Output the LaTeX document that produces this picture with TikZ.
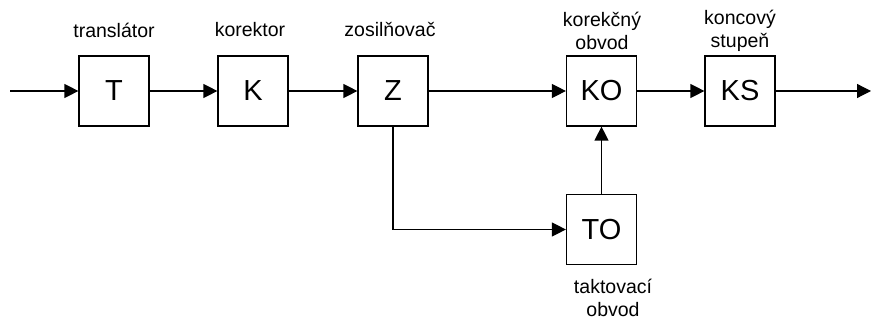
\documentclass[tikz,border=0pt]{standalone}
\usepackage{fontspec}
\setmainfont{Liberation Sans}
\usetikzlibrary{arrows.meta}
\begin{document}
\begin{tikzpicture}[x=1pt,y=-1pt,
  block/.style={draw,line width=1.2pt,minimum width=70pt,minimum height=70pt,inner sep=0pt,
    font=\fontsize{29}{32}\selectfont},
  caption/.style={align=center,inner sep=0pt,font=\fontsize{19.5}{23}\selectfont},
  sig/.style={line width=1.2pt,-{Triangle[length=14pt,width=14pt]}}]
\useasboundingbox (0,0) rectangle (872,320);
% blocks of the chain
\node[block] (T)  at (114,91) {T};
\node[block] (K)  at (253,91) {K};
\node[block] (Z)  at (393,91) {Z};
\node[block] (KO) at (601.5,91) {KO};
\node[block] (KS) at (740,91) {KS};
\node[block] (TO) at (601.5,229.5) {TO};
% block captions
\node[caption] (cT)  at (114,30) {translátor};
\node[caption] (cK)  at (250,30) {korektor};
\node[caption] (cZ)  at (390,30) {zosilňovač};
\node[caption] (cKO) at (602,31) {korekčný\\obvod};
\node[caption] (cKS) at (740,31) {koncový\\stupeň};
\node[caption] (cTO) at (613,298) {taktovací\\obvod};
% input and output terminals
\coordinate (in)  at (10,91);
\coordinate (out) at (871,91);
% signal path
\draw[sig] (in) -- (T);
\draw[sig] (T) -- (K);
\draw[sig] (K) -- (Z);
\draw[sig] (Z) -- (KO);
\draw[sig] (KO) -- (KS);
\draw[sig] (KS) -- (out);
\draw[sig] (Z.south) |- (TO.west);
\draw[sig] (TO.north) -- (KO.south);
\end{tikzpicture}
\end{document}
